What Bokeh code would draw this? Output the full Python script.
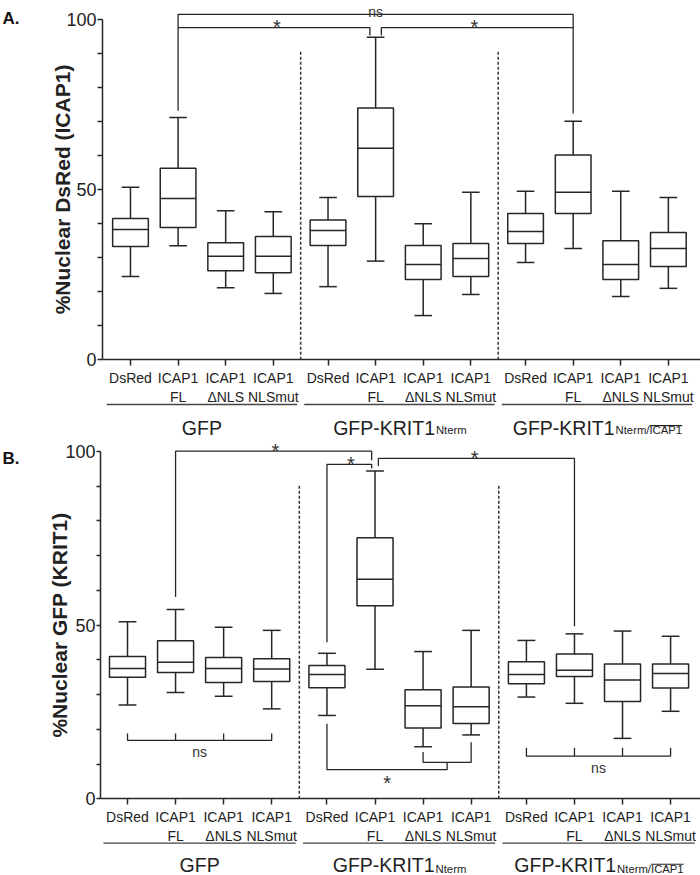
import numpy as np
from bokeh.plotting import figure
from bokeh.models import Range1d, FixedTicker, ColumnDataSource
from bokeh.layouts import column
from bokeh.embed import file_html
from bokeh.resources import INLINE
from bokeh.core.properties import value

FONT = "Liberation Sans"
INK = "#262626"

# ---------------- data ----------------
condition_labels = ["DsRed", "ICAP1\nFL", "ICAP1\nΔNLS", "ICAP1\nNLSmut"]
group_main = ["GFP", "GFP-KRIT1", "GFP-KRIT1"]
group_sub = ["", "Nterm", "Nterm/ICAP1"]
group_struck = ["", "", "ICAP1"]

y_major_ticks = [0, 50, 100]
y_minor_ticks = [10, 20, 30, 40, 60, 70, 80, 90]

# Panel A : %Nuclear DsRed (ICAP1); 12 boxes (GFP x4, KRIT1 Nterm x4, KRIT1 Nterm/ICAP1 x4)
a_min = [24.5, 33.5, 21.2, 19.5, 21.5, 29.0, 13.0, 19.2, 28.6, 32.7, 18.6, 21.0]
a_q1 = [33.3, 38.9, 26.2, 25.6, 33.6, 48.0, 23.6, 24.5, 34.2, 43.0, 23.6, 27.4]
a_med = [38.3, 47.4, 30.4, 30.4, 38.0, 62.2, 28.0, 29.8, 37.7, 49.2, 28.0, 32.7]
a_q3 = [41.5, 56.3, 34.4, 36.2, 41.1, 74.0, 33.6, 34.2, 43.0, 60.2, 35.0, 37.4]
a_max = [50.7, 71.2, 43.8, 43.5, 47.7, 94.8, 40.0, 49.2, 49.5, 70.1, 49.5, 47.7]

# Panel B : %Nuclear GFP (KRIT1)
b_min = [27.0, 30.6, 29.5, 25.9, 24.0, 37.3, 15.0, 18.4, 29.3, 27.5, 17.4, 25.2]
b_q1 = [35.0, 36.4, 33.5, 33.8, 32.0, 55.6, 20.4, 21.7, 33.1, 35.2, 28.0, 31.9]
b_med = [37.5, 39.3, 37.5, 37.4, 35.8, 63.2, 26.8, 26.5, 35.8, 37.0, 34.2, 36.1]
b_q3 = [41.0, 45.5, 40.7, 40.3, 38.4, 75.2, 31.4, 32.2, 39.5, 41.7, 38.8, 38.8]
b_max = [51.0, 54.5, 49.4, 48.5, 41.9, 94.4, 42.4, 48.5, 45.6, 47.5, 48.3, 46.8]

# significance brackets: polylines of (box index, x offset, y)
a_brackets = [
    [(1, 0, 73.2), (1, 0, 101.5), (9, 0, 101.5), (9, 0, 72.4)],
    [(1, 0, 97.6), (5, -0.12, 97.6), (5, -0.12, 95.3)],
    [(5, 0.12, 95.3), (5, 0.12, 97.6), (9, 0, 97.6)],
]
a_marks = [("ns", 1, 9, 101.5, "above"), ("*", 1, 5, 97.6, "above"), ("*", 5, 9, 97.6, "above")]

b_brackets = [
    [(1, 0, 58.1), (1, 0, 100.1), (5, -0.07, 100.1), (5, -0.07, 97.5)],
    [(4, 0, 45.1), (4, 0, 96.3), (5, -0.07, 96.3), (5, -0.07, 95.1)],
    [(5, 0.07, 95.8), (5, 0.07, 98.0), (9, 0, 98.0), (9, 0, 49.7)],
    [(0, 0, 18.8), (0, 0, 16.8), (3, 0, 16.8), (3, 0, 18.8)],
    [(1, 0, 16.8), (1, 0, 18.8)],
    [(2, 0, 16.8), (2, 0, 18.8)],
    [(8, 0, 14.7), (8, 0, 12.3), (11, 0, 12.3), (11, 0, 14.7)],
    [(9, 0, 12.3), (9, 0, 14.7)],
    [(10, 0, 12.3), (10, 0, 14.7)],
    [(4, 0, 21.6), (4, 0, 8.4), (6.5, 0, 8.4), (6.5, 0, 10.5)],
    [(6, 0, 13.5), (6, 0, 10.5), (7, 0, 10.5), (7, 0, 16.3)],
]
b_marks = [("*", 1, 5, 100.1, "above"), ("*", 4, 5, 96.3, "above"), ("*", 5, 9, 98.0, "above"),
           ("ns", 0, 3, 16.8, "below"), ("ns", 8, 11, 12.3, "below"), ("*", 4, 6.5, 8.4, "below")]

# ---------------- layout helpers ----------------
GROUP_STEP = 4.15
positions = [round(g * GROUP_STEP + j, 2) for g in range(3) for j in range(4)]
tick_labels = condition_labels * 3

ARIAL_W = {"G": 778, "F": 611, "P": 667, "-": 333, "K": 667, "R": 722, "I": 278, "T": 611,
           "1": 556, "N": 722, "t": 278, "e": 556, "r": 333, "m": 833, "/": 278, "C": 722,
           "A": 667}


def text_px(s, size):
    return sum(ARIAL_W.get(c, 556) for c in s) / 1000.0 * size


def pos_of(i):
    lo, hi = int(np.floor(i)), int(np.ceil(i))
    return (positions[lo] + positions[hi]) / 2.0


def build(letter, ylabel, mins, q1s, meds, q3s, maxs, brackets, marks, cfg):
    W = 700
    ax_x = cfg["axis_x"]
    xs_ = cfg["xscale"]
    x0 = ax_x - cfg["left"] / xs_
    x1 = x0 + W / xs_
    y0, y1 = cfg["yr"]
    fh = cfg["height"]
    ys_ = fh / (y1 - y0)

    p = figure(width=W, height=cfg["height"], x_range=Range1d(x0, x1), y_range=Range1d(y0, y1),
               output_backend="svg", toolbar_location=None, title=None,
               min_border_left=0, min_border_right=0, min_border_top=0,
               min_border_bottom=0)
    p.outline_line_color = None
    p.background_fill_color = "white"
    p.border_fill_color = "white"
    p.xgrid.visible = False
    p.ygrid.visible = False

    xa = p.xaxis[0]
    xa.fixed_location = 0
    xa.bounds = (ax_x, x1)
    xa.ticker = FixedTicker(ticks=positions, minor_ticks=[])
    xa.major_label_overrides = {pp: lab for pp, lab in zip(positions, tick_labels)}
    xa.major_tick_out = 6
    xa.major_tick_in = 0
    xa.minor_tick_out = 0
    xa.minor_tick_in = 0
    xa.axis_line_color = INK
    xa.axis_line_width = 1.5
    xa.major_tick_line_color = INK
    xa.major_tick_line_width = 1.5
    xa.major_label_text_font = FONT
    xa.major_label_text_font_size = "14px"
    xa.major_label_text_color = "#222222"
    xa.major_label_standoff = 4

    ya = p.yaxis[0]
    ya.fixed_location = ax_x
    ya.ticker = FixedTicker(ticks=y_major_ticks, minor_ticks=y_minor_ticks)
    ya.bounds = (0, 100)
    ya.axis_label = ylabel
    ya.axis_label_text_font = FONT
    ya.axis_label_text_font_style = "bold"
    ya.axis_label_text_font_size = "21px"
    ya.axis_label_text_color = "#222222"
    ya.axis_label_standoff = cfg["label_standoff"]
    ya.major_label_text_font = FONT
    ya.major_label_text_font_size = "18px"
    ya.major_label_text_color = "#222222"
    ya.major_label_standoff = 1
    ya.major_tick_out = cfg["tick_out"]
    ya.major_tick_in = 0
    ya.minor_tick_out = cfg["tick_out"]
    ya.minor_tick_in = 0
    ya.axis_line_color = INK
    ya.axis_line_width = 1.5
    ya.major_tick_line_color = INK
    ya.major_tick_line_width = 1.5
    ya.minor_tick_line_color = INK
    ya.minor_tick_line_width = 1.5

    # group separators
    seps = [(positions[4 * g + 3] + positions[4 * g + 4]) / 2.0 for g in range(2)]
    p.segment(x0=seps, x1=seps, y0=[0, 0], y1=[cfg["sep_top"]] * 2, line_color="#333333",
              line_width=1.5, line_dash="3 2")

    # boxes
    hb, hc = 0.375, 0.185
    src = ColumnDataSource(dict(
        pos=positions, bl=[x - hb for x in positions], br=[x + hb for x in positions],
        cl=[x - hc for x in positions], cr=[x + hc for x in positions],
        lo=mins, q1=q1s, med=meds, q3=q3s, hi=maxs))
    p.segment(x0="pos", x1="pos", y0="q3", y1="hi", source=src, line_color=INK, line_width=1.5)
    p.segment(x0="pos", x1="pos", y0="lo", y1="q1", source=src, line_color=INK, line_width=1.5)
    p.segment(x0="cl", x1="cr", y0="hi", y1="hi", source=src, line_color=INK, line_width=1.5)
    p.segment(x0="cl", x1="cr", y0="lo", y1="lo", source=src, line_color=INK, line_width=1.5)
    p.quad(left="bl", right="br", bottom="q1", top="q3", source=src, fill_color="white",
           line_color=INK, line_width=1.5)
    p.segment(x0="bl", x1="br", y0="med", y1="med", source=src, line_color=INK, line_width=1.5)

    # brackets
    bxs = [[pos_of(i) + dx for (i, dx, _) in br] for br in brackets]
    bys = [[yy for (_, _, yy) in br] for br in brackets]
    p.multi_line(xs=bxs, ys=bys, line_color=INK, line_width=1.3)

    star = dict(x=[], y=[], t=[])
    ns = dict(x=[], y=[], t=[])
    for (t, i, j, yy, side) in marks:
        xm = (pos_of(i) + pos_of(j)) / 2.0
        if t == "*":
            dy = 0.5 if side == "above" else -13.5
            star["x"].append(xm); star["y"].append(yy + dy / ys_); star["t"].append(t)
        else:
            dy = 2.3 if side == "above" else -12.0
            ns["x"].append(xm); ns["y"].append(yy + dy / ys_); ns["t"].append(t)
    if star["x"]:
        p.text(x=star["x"], y=star["y"], text=star["t"], text_font=value(FONT),
               text_font_size="20px", text_align="center", text_baseline="alphabetic",
               text_color="#333333")
    if ns["x"]:
        p.text(x=ns["x"], y=ns["y"], text=ns["t"], text_font=value(FONT),
               text_font_size="14px", text_align="center", text_baseline="alphabetic",
               text_color="#333333")

    # group underline and names
    gx0 = [positions[4 * g] - 0.5 for g in range(3)]
    gx1 = [positions[4 * g + 3] + 0.5 for g in range(3)]
    gl = cfg["group_line"]
    p.segment(x0=gx0, x1=gx1, y0=[gl] * 3, y1=[gl] * 3, line_color="#444444", line_width=1.3)
    MAIN, SUB = 19.5, 11.3
    for g in range(3):
        c = (positions[4 * g] + positions[4 * g + 3]) / 2.0
        if not group_sub[g]:
            p.text(x=[c], y=[cfg["main_base"]], text=[group_main[g]], text_font=value(FONT),
                   text_font_size=f"{MAIN}px", text_align="center", text_baseline="alphabetic",
                   text_color="#222222")
            continue
        mw = text_px(group_main[g], MAIN)
        sw = text_px(group_sub[g], SUB)
        split = c + (-(mw + sw) / 2.0 + mw) / xs_
        p.text(x=[split], y=[cfg["main_base"]], text=[group_main[g]], text_font=value(FONT),
               text_font_size=f"{MAIN}px", text_align="right", text_baseline="alphabetic",
               text_color="#222222")
        p.text(x=[split + 0.02], y=[cfg["sub_base"]], text=[group_sub[g]], text_font=value(FONT),
               text_font_size=f"{SUB}px", text_align="left", text_baseline="alphabetic",
               text_color="#222222")
        if group_struck[g]:
            k = group_sub[g].index(group_struck[g])
            sx0 = split + 0.02 + text_px(group_sub[g][:k], SUB) / xs_
            sx1 = sx0 + text_px(group_struck[g], SUB) / xs_
            sy = cfg["sub_base"] + 4.3 / ys_
            p.segment(x0=[sx0], x1=[sx1], y0=[sy], y1=[sy], line_color="#222222", line_width=1.1)

    # panel letter, 2px from the canvas edge
    p.text(x=[x0 + 2 / xs_], y=[cfg["letter_y"]], text=[letter], text_font=value(FONT),
           text_font_style="bold", text_font_size="17px", text_color="#111111",
           text_align="left", text_baseline="alphabetic")
    return p


cfg_a = dict(height=440, left=102, axis_x=-0.588, xscale=47.6, yr=(-23.71, 105.58), tick_out=5,
             label_standoff=-11, sep_top=91.0, group_line=-13.13, main_base=-20.0,
             sub_base=-20.6, letter_y=100.2)
cfg_b = dict(height=435, left=100, axis_x=-0.562, xscale=48.06, yr=(-22.08, 103.17), tick_out=4,
             label_standoff=-9, sep_top=90.2, group_line=-12.78, main_base=-19.2,
             sub_base=-20.1, letter_y=97.9)

pa = build("A.", "%Nuclear DsRed (ICAP1)", a_min, a_q1, a_med, a_q3, a_max, a_brackets, a_marks, cfg_a)
pb = build("B.", "%Nuclear GFP (KRIT1)", b_min, b_q1, b_med, b_q3, b_max, b_brackets, b_marks, cfg_b)

layout = column(pa, pb)
open("out.html", "w").write(file_html(layout, INLINE))
